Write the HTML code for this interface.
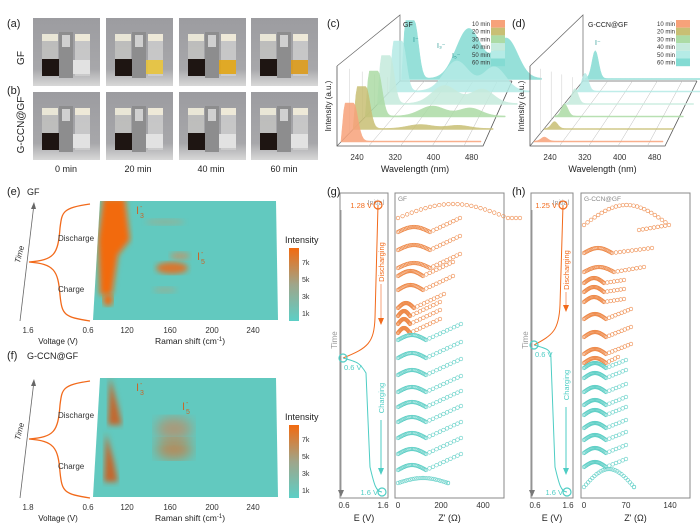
<!DOCTYPE html>
<html><head><meta charset="utf-8"><style>
body{margin:0;background:#fff}
svg{display:block;font-family:"Liberation Sans",sans-serif}
</style></head><body>
<svg id="s" width="700" height="531" viewBox="0 0 700 531" xmlns="http://www.w3.org/2000/svg">
<defs>
<filter id="b3"><feGaussianBlur stdDeviation="3"/></filter>
<filter id="b6"><feGaussianBlur stdDeviation="6"/></filter>
<linearGradient id="cb" x1="0" y1="1" x2="0" y2="0"><stop offset="0" stop-color="#5ccfc6"/><stop offset="0.5" stop-color="#9fa58a"/><stop offset="1" stop-color="#f26a10"/></linearGradient>
<linearGradient id="ph" x1="0" y1="0" x2="0" y2="1"><stop offset="0" stop-color="#9c9ca0"/><stop offset="0.75" stop-color="#a7a7aa"/><stop offset="1" stop-color="#d8d8d8"/></linearGradient>
</defs>
<g font-size="11" fill="#222">
<text x="7" y="27">(a)</text><text x="7" y="94">(b)</text>
<text x="24" y="58" font-size="10" transform="rotate(-90 24 58)" text-anchor="middle">GF</text>
<text x="24" y="125" font-size="10" transform="rotate(-90 24 125)" text-anchor="middle">G-CCN@GF</text>
<g font-size="9" text-anchor="middle"><text x="66" y="172">0 min</text><text x="138" y="172">20 min</text><text x="211" y="172">40 min</text><text x="284" y="172">60 min</text></g>
<text x="327" y="27">(c)</text><text x="512" y="27">(d)</text>
<text x="7" y="195">(e)</text><text x="27" y="195" font-size="9">GF</text>
<text x="7" y="359">(f)</text><text x="27" y="359" font-size="9">G-CCN@GF</text>
<text x="327" y="195">(g)</text><text x="512" y="195">(h)</text>
</g>
<g id="photos"></g>
<g id="spec"></g>
<g id="raman"></g>
<g id="eis"></g>
</svg>
<script>
const S=document.getElementById('s');const NS='http://www.w3.org/2000/svg';
function el(t,a,p){const e=document.createElementNS(NS,t);for(const k in a)e.setAttribute(k,a[k]);(p||S).appendChild(e);return e}
function tx(x,y,s,a,p){const e=el('text',Object.assign({x:x,y:y},a||{}),p);e.textContent=s;return e}
// photos
const P=document.getElementById('photos');
const px=[33,106,179,251];
[18,92].forEach((y0,r)=>px.forEach((x0,i)=>{
 el('rect',{x:x0,y:y0,width:67,height:68,fill:'url(#ph)'},P);
 el('rect',{x:x0+9,y:y0+22,width:16,height:36,fill:'#c9c9c6',opacity:.7},P);
 el('rect',{x:x0+9,y:y0+16,width:16,height:7,fill:'#e9e6d6'},P);
 el('rect',{x:x0+9,y:y0+41,width:18,height:17,fill:'#1e1512'},P);
 el('rect',{x:x0+26,y:y0+14,width:14,height:46,fill:'#8d8d8e'},P);
 el('rect',{x:x0+29,y:y0+17,width:8,height:12,fill:'#d0d0d0'},P);
 el('rect',{x:x0+42,y:y0+22,width:15,height:36,fill:'#cfcfcf',opacity:.8},P);
 el('rect',{x:x0+42,y:y0+16,width:15,height:7,fill:'#eee9d8'},P);
 if(r==0&&i>0){el('rect',{x:x0+40,y:y0+42,width:17,height:14,fill:['','#e8c33a','#e2a514','#dc9a1a'][i],opacity:.9},P)}
 else el('rect',{x:x0+40,y:y0+42,width:17,height:14,fill:'#e2e2e2'},P);
}));
// 3D spectra
const G=document.getElementById('spec');
const cols=['#f7a27a','#c8bf74','#acdba5','#c5eadc','#b5ebe6','#84dbd3'];
const gau=(u,c,w)=>Math.exp(-((u-c)*(u-c))/(2*w*w));
function box(o){
 el('polyline',{points:`${o.fx0},${o.fy-80} ${o.fx0},${o.fy} ${o.fx1},${o.fy} ${o.bx1},${o.by}`,fill:'none',stroke:'#555','stroke-width':.8},G);
 el('polyline',{points:`${o.fx0},${o.fy} ${o.bx0},${o.by} ${o.bx0},${o.by-66} ${o.fx0},${o.fy-80}`,fill:'none',stroke:'#666','stroke-width':.7},G);
 el('line',{x1:o.bx0,y1:o.by,x2:o.bx1,y2:o.by,stroke:'#666','stroke-width':.7},G);
 for(let k=1;k<5;k++){const t=k/4.6;el('line',{x1:o.fx0+(o.fx1-o.fx0)*t,y1:o.fy,x2:o.bx0+(o.bx1-o.bx0)*t,y2:o.by,stroke:'#bbb','stroke-width':.5},G)}
 for(let k=1;k<5;k++){const t=k/5;el('line',{x1:o.fx0+(o.bx0-o.fx0)*t,y1:o.fy-80+14*t,x2:o.fx0+(o.bx0-o.fx0)*t,y2:o.fy+(o.by-o.fy)*t,stroke:'#ccc','stroke-width':.5},G)}
 [240,320,400,480].forEach((v,i)=>tx(o.fx0+20+i*(o.fx1-o.fx0-20)/3.3,o.fy+14,v,{'font-size':8,'text-anchor':'middle',fill:'#333'},G));
 tx((o.fx0+o.fx1)/2+5,o.fy+26,'Wavelength (nm)',{'font-size':9,'text-anchor':'middle',fill:'#222'},G);
 tx(o.fx0-6,o.fy-40,'Intensity (a.u.)',{'font-size':8,'text-anchor':'middle',transform:`rotate(-90 ${o.fx0-6} ${o.fy-40})`,fill:'#222'},G);
 for(let k=5;k>=0;k--){
  const t=k/5.2,x0=o.fx0+(o.bx0-o.fx0)*t+4,y0=o.fy+(o.by-o.fy)*t-4,L=(o.fx1-o.fx0)-6;
  let pts=`${x0},${y0} `;
  for(let j=0;j<=100;j++){const u=j/100;pts+=`${x0+u*L},${y0-o.f(k,u)} `}
  pts+=`${x0+L},${y0}`;
  el('polygon',{points:pts,fill:cols[k],opacity:.85,stroke:cols[k],'stroke-width':.5},G);
 }
 ['10 min','20 min','30 min','40 min','50 min','60 min'].forEach((s,i)=>{tx(o.lx,o.ly+i*7.7+6,s,{'font-size':6,fill:'#333'},G);el('rect',{x:o.lx+19,y:o.ly+i*7.7,width:14,height:7.7,fill:cols[i]},G)});
}
box({fx0:337,fy:146,fx1:483,bx0:400,bx1:512,by:81,lx:472,ly:20,f:(k,u)=>{
 const a=[38,42,45,48,50,58][k];const b=[0,4,10,18,30,50][k];
 return a*(u<0.09?Math.min(1,u*40):gau(u,0.09,0.03))+b*gau(u,0.48,0.09)+b*0.8*gau(u,0.75,0.08)+1;
}});
tx(403,27,'GF',{'font-size':7,fill:'#222'},G);
tx(413,42,'I⁻',{'font-size':7,fill:'#2a9a94'},G);tx(437,48,'I₃⁻',{'font-size':7,fill:'#2a9a94'},G);tx(452,58,'I₅⁻',{'font-size':7,fill:'#2a9a94'},G);
box({fx0:530,fy:146,fx1:665,bx0:583,bx1:697,by:81,lx:657,ly:20,f:(k,u)=>[4,7,12,15,18,28][k]*gau(u,0.08,0.025)+1});
tx(588,27,'G-CCN@GF',{'font-size':7,fill:'#222'},G);tx(595,45,'I⁻',{'font-size':7,fill:'#2a9a94'},G);

// Raman panels
const R=document.getElementById('raman');
function ram(y0,gcc){
 el('line',{x1:20,y1:y0+121,x2:34,y2:y0+4,stroke:'#666','stroke-width':.8},R);
 el('polygon',{points:`34,${y0+2} 31,${y0+9} 36,${y0+9}`,fill:'#666'},R);
 tx(22,y0+55,'Time',{'font-size':8,'font-style':'italic',transform:`rotate(-75 22 ${y0+55})`,'text-anchor':'middle',fill:'#333'},R);
 el('path',{d:`M90,${y0+4} C62,${y0+8} 62,${y0+12} 60,${y0+28} C58,${y0+55} 54,${y0+60} 29,${y0+62} C54,${y0+64} 58,${y0+70} 60,${y0+95} C62,${y0+115} 64,${y0+117} 90,${y0+121}`,fill:'none',stroke:'#f26a1b','stroke-width':1.3},R);
 tx(58,y0+41,'Discharge',{'font-size':8,fill:'#333'},R);tx(58,y0+92,'Charge',{'font-size':8,fill:'#333'},R);
 tx(28,y0+133,gcc?'1.8':'1.6',{'font-size':8,'text-anchor':'middle',fill:'#333'},R);tx(88,y0+133,'0.6',{'font-size':8,'text-anchor':'middle',fill:'#333'},R);
 tx(58,y0+144,'Voltage (V)',{'font-size':8,'text-anchor':'middle',fill:'#222'},R);
 const cp=`M100,${y0+1} L276,${y0+1} L278,${y0+120} L93,${y0+120}Z`;
 const cid='c'+y0;const c=el('clipPath',{id:cid},R);el('path',{d:cp},c);
 el('path',{d:cp,fill:'#62c9bf'},R);
 const g=el('g',{'clip-path':`url(#${cid})`},R);
 if(!gcc){
  el('path',{d:`M103,${y0-2} L125,${y0-2} L130,${y0+40} L118,${y0+55} L112,${y0+95} L100,${y0+95} L98,${y0+40}Z`,fill:'#f26a10',filter:'url(#b3)'},g);
  el('ellipse',{cx:108,cy:y0+100,rx:5,ry:6,fill:'#f26a10',filter:'url(#b3)'},g);
  el('ellipse',{cx:172,cy:y0+68,rx:16,ry:6,fill:'#d9762e',filter:'url(#b3)'},g);
  el('ellipse',{cx:180,cy:y0+56,rx:10,ry:4,fill:'#c99060',filter:'url(#b3)',opacity:.7},g);
  el('ellipse',{cx:165,cy:y0+22,rx:20,ry:3,fill:'#b5a07a',filter:'url(#b3)',opacity:.5},g);
  el('ellipse',{cx:165,cy:y0+90,rx:12,ry:3,fill:'#b5a07a',filter:'url(#b3)',opacity:.5},g);
 }else{
  el('path',{d:`M110,${y0} L118,${y0+30} L122,${y0+48} L108,${y0+48}Z`,fill:'#c3682e',filter:'url(#b3)'},g);
  el('path',{d:`M106,${y0+56} L114,${y0+85} L118,${y0+105} L104,${y0+105}Z`,fill:'#c3682e',filter:'url(#b3)'},g);
  el('ellipse',{cx:174,cy:y0+52,rx:18,ry:12,fill:'#a99a7a',filter:'url(#b6)'},g);
  el('ellipse',{cx:174,cy:y0+72,rx:18,ry:10,fill:'#b58a5a',filter:'url(#b6)'},g);
 }
 tx(136,y0+14,'I',{'font-size':11,fill:'#c7662a'},R);tx(140,y0+18,'3',{'font-size':7,fill:'#c7662a'},R);tx(140,y0+9,'-',{'font-size':7,fill:'#c7662a'},R);
 const i5x=gcc?182:197,i5y=gcc?y0+33:y0+60;
 tx(i5x,i5y,'I',{'font-size':11,fill:'#c7662a'},R);tx(i5x+4,i5y+4,'5',{'font-size':7,fill:'#c7662a'},R);tx(i5x+4,i5y-5,'-',{'font-size':7,fill:'#c7662a'},R);
 [[120,127],[160,170],[200,212],[240,253]].forEach(([v,x])=>{tx(x,y0+133,v,{'font-size':8,'text-anchor':'middle',fill:'#333'},R)});
 const t=tx(190,y0+144,'',{'font-size':8.5,'text-anchor':'middle',fill:'#222'},R);
 t.innerHTML='Raman shift (cm<tspan dy="-3" font-size="6">-1</tspan><tspan dy="3">)</tspan>';
 tx(285,y0+43,'Intensity',{'font-size':9,fill:'#222'},R);
 el('rect',{x:289,y:y0+48,width:10,height:73,fill:'url(#cb)'},R);
 ['7k','5k','3k','1k'].forEach((s,i)=>tx(302,y0+65+i*17,s,{'font-size':7,fill:'#333'},R));
}
ram(200,false);ram(377,true);

// EIS
const E=document.getElementById('eis');
function eis(o){
 el('rect',{x:o.ex0,y:193,width:o.ex1-o.ex0,height:305,fill:'none',stroke:'#888','stroke-width':1},E);
 el('rect',{x:o.zx0,y:193,width:o.zx1-o.zx0,height:305,fill:'none',stroke:'#888','stroke-width':1},E);
 tx(o.ex1-4,205,'Initial',{'font-size':7,'text-anchor':'end',fill:'#999'},E);
 tx(o.zx0+3,201,o.lab,{'font-size':6.5,fill:'#888'},E);
 el('line',{x1:o.ax,y1:210,x2:o.ax,y2:494,stroke:'#888','stroke-width':.8},E);
 el('polygon',{points:`${o.ax-3},490 ${o.ax+3},490 ${o.ax},497`,fill:'#777'},E);
 tx(o.ax-4,340,'Time',{'font-size':8,transform:`rotate(-90 ${o.ax-4} 340)`,'text-anchor':'middle',fill:'#999'},E);
 const top=205,mid=o.mid,bot=492;
 el('path',{d:`M${o.ex1-10},${top} L${o.ex1-13},${mid-40} C${o.ex1-14},${mid-15} ${o.ex1-20},${mid-10} ${o.ex0+3},${mid}`,fill:'none',stroke:'#f26a1b','stroke-width':1},E);
 el('path',{d:`M${o.ex0+3},${mid} C${o.ex0+18},${mid+4} ${o.ex0+20},${mid+5} ${o.ex1-22},${mid+15} L${o.ex1-18},${bot-25} C${o.ex1-14},${bot-8} ${o.ex1-12},${bot} ${o.ex1-6},${bot}`,fill:'none',stroke:'#4ecdc4','stroke-width':1},E);
 el('circle',{cx:o.ex1-10,cy:top,r:4,fill:'none',stroke:'#f26a1b','stroke-width':1.2},E);
 el('circle',{cx:o.ex0+3,cy:mid,r:4,fill:'none',stroke:'#4ecdc4','stroke-width':1.2},E);
 el('circle',{cx:o.ex1-6,cy:bot,r:4,fill:'none',stroke:'#4ecdc4','stroke-width':1.2},E);
 tx(o.ex1-16,top+3,o.v1,{'font-size':7.5,'text-anchor':'end',fill:'#f26a1b'},E);
 tx(o.ex0+4,mid+12,'0.6 V',{'font-size':7.5,fill:'#4ecdc4'},E);
 tx(o.ex1-10,bot+3,'1.6 V',{'font-size':7.5,'text-anchor':'end',fill:'#4ecdc4'},E);
 const dx=o.ex1-7;
 tx(dx+3,o.dy,'Discharging',{'font-size':7.5,transform:`rotate(-90 ${dx+3} ${o.dy})`,'text-anchor':'middle',fill:'#f26a1b'},E);
 el('line',{x1:dx,y1:o.dy+22,x2:dx,y2:mid-38,stroke:'#f7a27a','stroke-width':1},E);
 el('polygon',{points:`${dx-3},${mid-40} ${dx+3},${mid-40} ${dx},${mid-33}`,fill:'#f26a1b'},E);
 tx(dx+3,mid+40,'Charging',{'font-size':7.5,transform:`rotate(-90 ${dx+3} ${mid+40})`,'text-anchor':'middle',fill:'#4ecdc4'},E);
 el('line',{x1:dx,y1:mid+62,x2:dx,y2:bot-22,stroke:'#4ecdc4','stroke-width':1},E);
 el('polygon',{points:`${dx-3},${bot-24} ${dx+3},${bot-24} ${dx},${bot-17}`,fill:'#4ecdc4'},E);
 tx(o.ex0+4,508,'0.6',{'font-size':8,'text-anchor':'middle',fill:'#333'},E);tx(o.ex1-5,508,'1.6',{'font-size':8,'text-anchor':'middle',fill:'#333'},E);
 tx((o.ex0+o.ex1)/2,521,'E (V)',{'font-size':9,'text-anchor':'middle',fill:'#222'},E);
 o.zt.forEach(([s,x])=>tx(x,508,s,{'font-size':8,'text-anchor':'middle',fill:'#333'},E));
 tx((o.zx0+o.zx1)/2,521,"Z' (Ω)",{'font-size':9,'text-anchor':'middle',fill:'#222'},E);
 o.curves.forEach(c=>{
  const [y,w,h,tl,col]=c;const x0=o.zx0+3;
  for(let j=0;j<=24;j++){const t=j/24;el('circle',{cx:x0+w*t,cy:y-h*Math.sin(Math.PI*t),r:1.8,fill:'none',stroke:col,'stroke-width':.6},E)}
  for(let j=1;j<=tl[2];j++){const t=j/tl[2];el('circle',{cx:x0+w+tl[0]*t,cy:y-tl[1]*t,r:1.8,fill:'none',stroke:col,'stroke-width':.6},E)}
 });
}
const O='#ee8a4a',T='#5fcfc6';
const cg=[[218,110,14,[12,0,3],O]];
[232,250,268,276,290,308,316,324,333].forEach((y,i)=>cg.push([y,[32,32,32,25,25,16,12,12,12][i],5,[30,14,9],O]));
[340,358,375,392,407,422,438,454,470,483].forEach((y,i)=>cg.push([y,i==9?50:28,5,i==9?[0,0,2]:[35,16,10],T]));
eis({ex0:340,ex1:388,zx0:395,zx1:504,ax:341,mid:358,v1:'1.28 V',dy:262,lab:'GF',zt:[['0',398],['200',441],['400',483]],curves:cg});
const tails=[[40,5,10],[30,5,8],[20,3,6],[20,3,6],[20,3,6],[25,10,8],[25,10,8],[25,10,8],[12,6,4]];
const ch=[[225,85,20,[-30,-5,8],O]];
[253,272,283,292,302,319,337,354,363].forEach((y,i)=>ch.push([y,[28,30,20,20,20,22,22,22,22][i],5,tails[i],O]));
[368,378,392,405,415,428,440,453,467,487].forEach((y,i)=>ch.push([y,i==9?50:22,i==9?18:5,i==9?[0,0,2]:[20,8,6],T]));
eis({ex0:531,ex1:573,zx0:581,zx1:690,ax:532,mid:345,v1:'1.25 V',dy:270,lab:'G-CCN@GF',zt:[['0',584],['70',626],['140',670]],curves:ch});
</script>
</body></html>
